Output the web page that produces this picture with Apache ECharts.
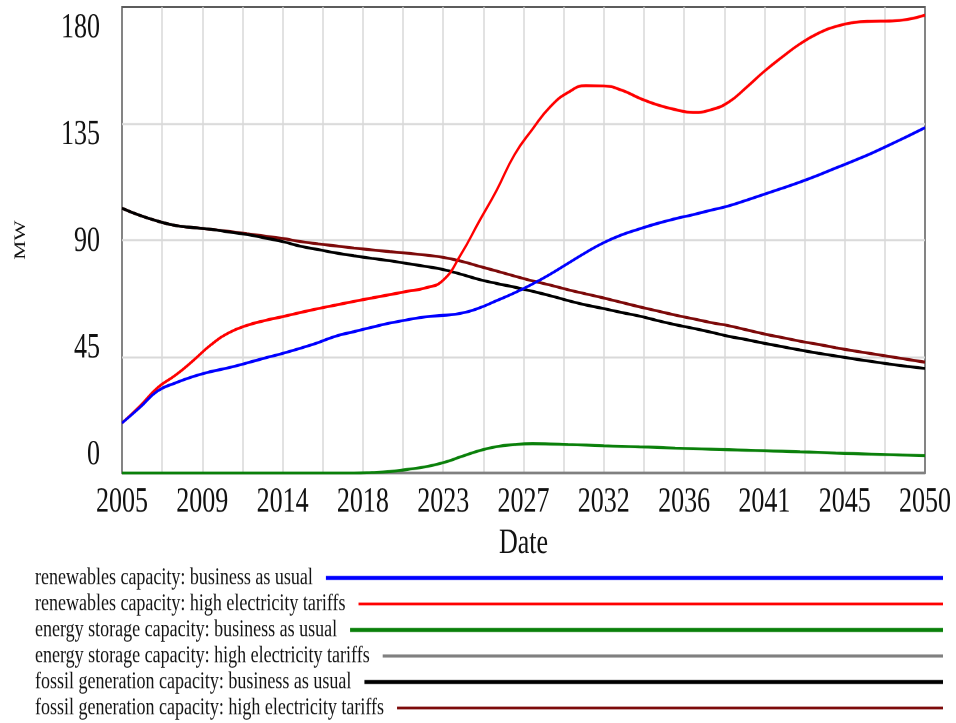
<!DOCTYPE html>
<html>
<head>
<meta charset="utf-8">
<script src="https://cdn.jsdelivr.net/npm/echarts@6/dist/echarts.min.js"></script>
<style>
  html, body { margin: 0; padding: 0; background: #fff; width: 956px; height: 723px; }
  /* the chart is laid out at a reduced height and stretched vertically,
     giving the tall, narrow lettering of the original simulation output */
  #chart { width: 956px; height: 542px; transform-origin: 0 0; transform: scale(1, 1.33395); }
</style>
</head>
<body>
<div id="chart"></div>
<script>
// ---- simulation output, MW per year ----
const years = [2005, 2006, 2007, 2008, 2009, 2010, 2011, 2012, 2013, 2014,
  2015, 2016, 2017, 2018, 2019, 2020, 2021, 2022, 2023, 2024,
  2025, 2026, 2027, 2028, 2029, 2030, 2031, 2032, 2033, 2034,
  2035, 2036, 2037, 2038, 2039, 2040, 2041, 2042, 2043, 2044,
  2045, 2046, 2047, 2048, 2049, 2050];

const renewablesBAU = [19.3, 25.3, 31.7, 34.8, 37.3, 39.2, 40.7, 42.5, 44.4, 46.2,
  48.2, 50.4, 52.9, 54.6, 56.3, 57.9, 59.2, 60.3, 60.9, 61.7,
  63.7, 66.6, 69.6, 73.0, 76.8, 81.0, 85.2, 89.0, 92.0, 94.3,
  96.4, 98.2, 99.8, 101.5, 103.2, 105.4, 107.7, 110.0, 112.4, 115.0,
  117.8, 120.6, 123.5, 126.7, 130.0, 133.4];

const renewablesHigh = [19.3, 25.8, 33.0, 37.8, 43.5, 49.6, 54.2, 57.0, 58.9, 60.4,
  62.0, 63.5, 64.9, 66.3, 67.6, 68.9, 70.2, 71.5, 74.5, 84.5,
  97.0, 109.3, 123.0, 132.8, 141.5, 147.0, 149.6, 149.5, 147.9, 144.8,
  142.2, 140.4, 139.3, 140.3, 143.3, 149.0, 155.2, 160.7, 165.8, 169.8,
  172.5, 174.0, 174.5, 174.6, 175.2, 176.9];

const storageBAU = [0, 0, 0, 0, 0, 0, 0, 0, 0, 0,
  0, 0, 0, 0, 0.2, 0.6, 1.4, 2.4, 4.0, 6.3,
  8.6, 10.2, 11.0, 11.3, 11.2, 11.0, 10.8, 10.5, 10.3, 10.1,
  9.9, 9.6, 9.4, 9.2, 9.0, 8.8, 8.6, 8.4, 8.2, 8.0,
  7.7, 7.5, 7.3, 7.1, 6.9, 6.7];

const storageHigh = [0, 0, 0, 0, 0, 0, 0, 0, 0, 0,
  0, 0, 0, 0, 0, 0, 0, 0, 0, 0,
  0, 0, 0, 0, 0, 0, 0, 0, 0, 0,
  0, 0, 0, 0, 0, 0, 0, 0, 0, 0,
  0, 0, 0, 0, 0, 0];

const fossilBAU = [102.3, 99.5, 97.3, 95.6, 94.8, 94.1, 93.1, 92.1, 90.8, 89.4,
  87.6, 86.3, 85.0, 83.9, 82.9, 82.0, 80.9, 79.8, 78.6, 76.8,
  74.8, 73.2, 71.8, 70.2, 68.5, 66.6, 64.9, 63.5, 62.0, 60.6,
  58.9, 57.3, 55.9, 54.4, 52.8, 51.5, 50.1, 48.8, 47.5, 46.3,
  45.2, 44.1, 43.1, 42.1, 41.2, 40.4];

const fossilHigh = [102.3, 99.5, 97.3, 95.6, 94.8, 94.1, 93.3, 92.4, 91.5, 90.6,
  89.4, 88.5, 87.7, 86.9, 86.2, 85.5, 84.9, 84.2, 83.3, 81.8,
  79.9, 78.0, 76.1, 74.2, 72.6, 70.8, 69.2, 67.6, 65.9, 64.2,
  62.6, 61.0, 59.6, 58.1, 56.9, 55.3, 53.7, 52.3, 50.9, 49.7,
  48.4, 47.2, 46.1, 45.0, 43.9, 42.8];

const seriesNames = [
  'renewables capacity: business as usual',
  'renewables capacity: high electricity tariffs',
  'energy storage capacity: business as usual',
  'energy storage capacity: high electricity tariffs',
  'fossil generation capacity: business as usual',
  'fossil generation capacity: high electricity tariffs'
];

const xTickLabels = ['2005', '2009', '2014', '2018', '2023', '2027', '2032', '2036', '2041', '2045', '2050'];
const yTickValues = [0, 45, 90, 135, 180];

// ---- drawing ----
const START_YEAR = 2005;
const SPAN = 45;
const SERIF = '"Liberation Serif", "DejaVu Serif", "Times New Roman", serif';
const STRETCH = 723 / 542;          // vertical stretch applied by CSS
const py = v => v / STRETCH;        // page-y to layout-y

const seriesValues = [renewablesBAU, renewablesHigh, storageBAU, storageHigh, fossilBAU, fossilHigh];
const colors = ['#0000ff', '#ff0000', '#0a800a', '#808080', '#000000', '#7d0a0a'];
const legendThick = [3, 2, 3, 2.2, 3, 2];
const legendRows = [578, 604, 630, 656, 682, 708];

const toPoints = vals => years.map((y, i) => [y - START_YEAR, vals[i]]);

const plotTop = 7, plotBottom = 473, plotLeft = 122, plotRight = 925;
// label axis: tick labels spread between page-y 455 (value 0) and 28 (value 180)
const lblPerUnit = (455 - 28) / 180;
const lblMax = (455 - plotTop) / lblPerUnit;
const lblMin = -(plotBottom - 455) / lblPerUnit;

const measure = document.createElement('canvas').getContext('2d');
measure.font = '18px ' + SERIF;

const legendText = '#141414';
const legends = seriesNames.map((name, i) => {
  const tw = measure.measureText(name).width;
  return {
    data: [name],
    left: 35,
    top: py(legendRows[i]) - 9,
    padding: 0,
    align: 'right',
    selectedMode: false,
    icon: 'rect',
    itemWidth: Math.max(10, 943 - 35 - tw - 13),
    itemHeight: legendThick[i],
    textStyle: { fontFamily: SERIF, fontSize: 18, lineHeight: 18, color: legendText, padding: [0, 8, 0, 0] }
  };
});

const gridLine = { color: '#d9d9d9', width: 1.5 };

const option = {
  animation: false,
  backgroundColor: '#ffffff',
  grid: {
    left: plotLeft,
    right: 956 - plotRight,
    top: py(plotTop),
    height: py(plotBottom - plotTop),
    show: true,
    borderColor: '#5c5c5c',
    borderWidth: 1.5,
    backgroundColor: 'transparent'
  },
  legend: legends,
  xAxis: {
    type: 'value',
    min: 0,
    max: SPAN,
    interval: 2.25,
    name: 'Date',
    nameLocation: 'middle',
    nameGap: 40,
    nameTextStyle: { fontFamily: SERIF, fontSize: 26, color: '#111' },
    axisLine: { show: false },
    axisTick: { show: false },
    splitLine: { show: true, showMinLine: false, showMaxLine: false, lineStyle: gridLine },
    axisLabel: {
      customValues: xTickLabels.map((_, i) => i * SPAN / (xTickLabels.length - 1)),
      formatter: v => xTickLabels[Math.round(v / (SPAN / (xTickLabels.length - 1)))],
      fontFamily: SERIF,
      fontSize: 26,
      color: '#111',
      margin: 9,
      showMinLabel: true,
      showMaxLabel: true,
      hideOverlap: false
    }
  },
  yAxis: [
    {
      type: 'value',
      min: 0,
      max: 180,
      interval: 45,
      axisLine: { show: false },
      axisTick: { show: false },
      axisLabel: { show: false },
      splitLine: { show: true, showMinLine: false, showMaxLine: false, lineStyle: gridLine }
    },
    {
      type: 'value',
      position: 'left',
      min: lblMin,
      max: lblMax,
      name: 'MW',
      nameLocation: 'middle',
      nameGap: 93,
      nameTextStyle: { fontFamily: SERIF, fontSize: 16, color: '#111' },
      axisLine: { show: false },
      axisTick: { show: false },
      splitLine: { show: false },
      axisLabel: {
        customValues: yTickValues,
        formatter: v => String(v),
        fontFamily: SERIF,
        fontSize: 26,
        color: '#111',
        margin: 22
      }
    }
  ],
  // earlier entries sit on top of later ones
  series: seriesNames.map((name, i) => ({
    name: name,
    type: 'line',
    yAxisIndex: 0,
    data: toPoints(seriesValues[i]),
    color: colors[i],
    showSymbol: false,
    smooth: 0.5,
    clip: false,
    z: 10 - i,
    lineStyle: { width: 2.2, color: colors[i] }
  }))
};

const chart = echarts.init(document.getElementById('chart'), null, { renderer: 'canvas', devicePixelRatio: 2 });
chart.setOption(option);
</script>
</body>
</html>
